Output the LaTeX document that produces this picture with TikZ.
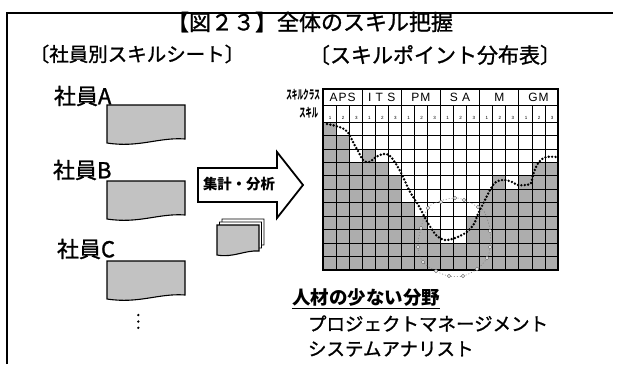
\documentclass[tikz,border=0pt]{standalone}
\usepackage{fontspec}
\usepackage{graphicx}
\usetikzlibrary{calc}
\newfontfamily\jp{Noto Sans CJK JP}
\newfontfamily\jpm[FakeBold=1.2]{Noto Sans CJK JP}
\newfontfamily\hv[LetterSpace=8]{Liberation Sans}
\tikzset{
  sheetbox/.style={draw=black, line width=1.1pt, fill=black!24},
  whitebox/.style={draw=black, line width=0.9pt, fill=white},
  barfill/.style={fill=black!32},
  gridthin/.style={line width=0.7pt},
  gridgroup/.style={line width=1.1pt},
  bigdots/.style={line width=2.7pt, line cap=round, dash pattern=on 0pt off 3.4pt},
  ringdots/.style={draw=black!55, line width=0.5pt},
  txt/.style={inner sep=0pt, outer sep=0pt},
  docsheet/.pic={\path[sheetbox] (0,0) -- (78,0) -- (78,34) .. controls (52,32) and (32,43) .. (0,38) -- cycle;},
  smallsheet/.pic={\path[pic actions] (0,0) -- (42,0) -- (42,26) .. controls (28,25) and (16,33) .. (0,30) -- cycle;}
}
\begin{document}
\begin{tikzpicture}[x=1pt,y=-1pt]
\useasboundingbox (0,0) rectangle (618,364);
% frame
\draw[line width=1.4pt] (7,364) -- (7,13) -- (613,13);
% title and subtitles
\node[txt] (title) at (310,22) {\jpm\fontsize{22}{22}\selectfont 【図２３】全体のスキル把握};
\node[txt] (subL) at (137,54) {\jpm\fontsize{19.5}{19.5}\selectfont 〔社員別スキルシート〕};
\node[txt] (subR) at (435,55) {\jpm\fontsize{21}{21}\selectfont 〔スキルポイント分布表〕};
% employees
\node[txt,anchor=west] (empA) at (54,96) {\jpm\fontsize{22}{22}\selectfont 社員A};
\node[txt,anchor=west] (empB) at (53,170) {\jpm\fontsize{22}{22}\selectfont 社員B};
\node[txt,anchor=west] (empC) at (57,249) {\jpm\fontsize{22}{22}\selectfont 社員C};
\pic at (107,105) {docsheet};
\pic at (107,181) {docsheet};
\pic at (107,261) {docsheet};
\foreach \yy in {315,321.5,327.8} \fill (138.3,\yy) circle (1.3);
% block arrow
\draw[line width=1.8pt, fill=white, line join=miter] (198,168) -- (277,168) -- (277,152) -- (303,185) -- (277,218) -- (277,202) -- (198,202) -- cycle;
\node[txt] (agg) at (239,184.5) {\jp\bfseries\fontsize{14.4}{14.4}\selectfont 集計・分析};
% stack of sheets
\pic[whitebox] at (222,219) {smallsheet};
\pic[whitebox] at (219.5,222) {smallsheet};
\pic[sheetbox] at (217,225) {smallsheet};
% chart
\def\cw{13.0556}
\def\rh{13.4545}
\foreach \c/\h in {0/11,1/10,2/8,3/9,4/8,5/7,6/5,7/4,8/3,9/2,10/2,11/4,12/6,13/7,14/6,15/7,16/8,17/8}
  \fill[barfill] ({323+\c*\cw},{270-\h*\rh}) rectangle ({323+(\c+1)*\cw},270);
\foreach \r in {1,...,10} \draw[gridthin] (323,{122+\r*\rh}) -- (558,{122+\r*\rh});
\draw[gridthin] (323,105) -- (558,105);
\draw[gridthin] (323,122) -- (558,122);
\foreach \c in {1,...,17} \draw[gridthin] ({323+\c*\cw},105) -- ({323+\c*\cw},270);
\foreach \c in {3,6,9,12,15} \draw[gridgroup] ({323+\c*\cw},89) -- ({323+\c*\cw},270);
\draw[line width=2.6pt] (323,89) rectangle (558,270);
\foreach \g/\t in {0/APS,1/I T S,2/PM,3/S A,4/M,5/GM}
  \node[txt] (grp\g) at ({323+(\g+0.5)*3*\cw},97.5) {\hv\fontsize{12}{12}\selectfont \t};
\foreach \c in {0,...,17}{
  \pgfmathtruncatemacro\dg{mod(\c,3)+1}
  \node[txt] (dig\c) at ({323+(\c+0.55)*\cw},117.5) {\hv\fontsize{4.5}{4.5}\selectfont \dg};
}
\node[txt,anchor=east] (clsL) at (320,95) {\jp\bfseries\fontsize{12.5}{12.5}\selectfont\scalebox{0.45}[1]{スキルクラス}};
\node[txt,anchor=east] (sklL) at (318,112.5) {\jp\bfseries\fontsize{12.5}{12.5}\selectfont\scalebox{0.5}[1]{スキル}};
% gray loop with rings
\draw[ringdots, dash pattern=on 1pt off 2pt] plot[smooth cycle, tension=0.6] coordinates {(428,208) (440,201) (455,198) (464,200) (478,207) (485,213) (490,230) (490,247) (487,258) (477,269) (463,276) (449,276) (436,271) (423,262) (418,247) (421,228)};
\foreach \p in {(428,208),(441,202),(455,198),(464,200),(478,207),(490,231),(490,247),(487,258),(477,269),(463,276),(449,276),(436,271),(423,262),(418,247),(421,228)}
  \draw[ringdots, line width=0.6pt, fill=white] \p circle (1.7);
% black dotted curve
\draw[bigdots] plot[smooth, tension=0.55] coordinates {(327,124) (336,126) (344,129) (349,134) (353,142) (358,151) (363,160) (369,162) (376,157) (383,154) (389,155) (394,161) (399,169) (404,179) (409,190) (415,200) (420,208) (425,218) (431,228) (437,236) (444,240) (452,239) (460,236) (468,231) (474,224) (478,214) (483,204) (488,194) (493,185) (498,181) (505,180) (512,182) (518,185) (526,185) (531,183) (533,175) (536,167) (540,161) (546,157) (557,157)};
% bottom texts
\node[txt,anchor=west] (few) at (292,298) {\jp\bfseries\fontsize{18.5}{18.5}\selectfont 人材の少ない分野};
\draw[line width=1.5pt] ($(few.south west)+(0,1.5)$) -- ($(few.south east)+(0,1.5)$);
\node[txt,anchor=west] (pm) at (308,323.5) {\jpm\fontsize{18.5}{18.5}\selectfont プロジェクトマネージメント};
\node[txt,anchor=west] (sa) at (308,349) {\jpm\fontsize{18.5}{18.5}\selectfont システムアナリスト};
\end{tikzpicture}
\end{document}
